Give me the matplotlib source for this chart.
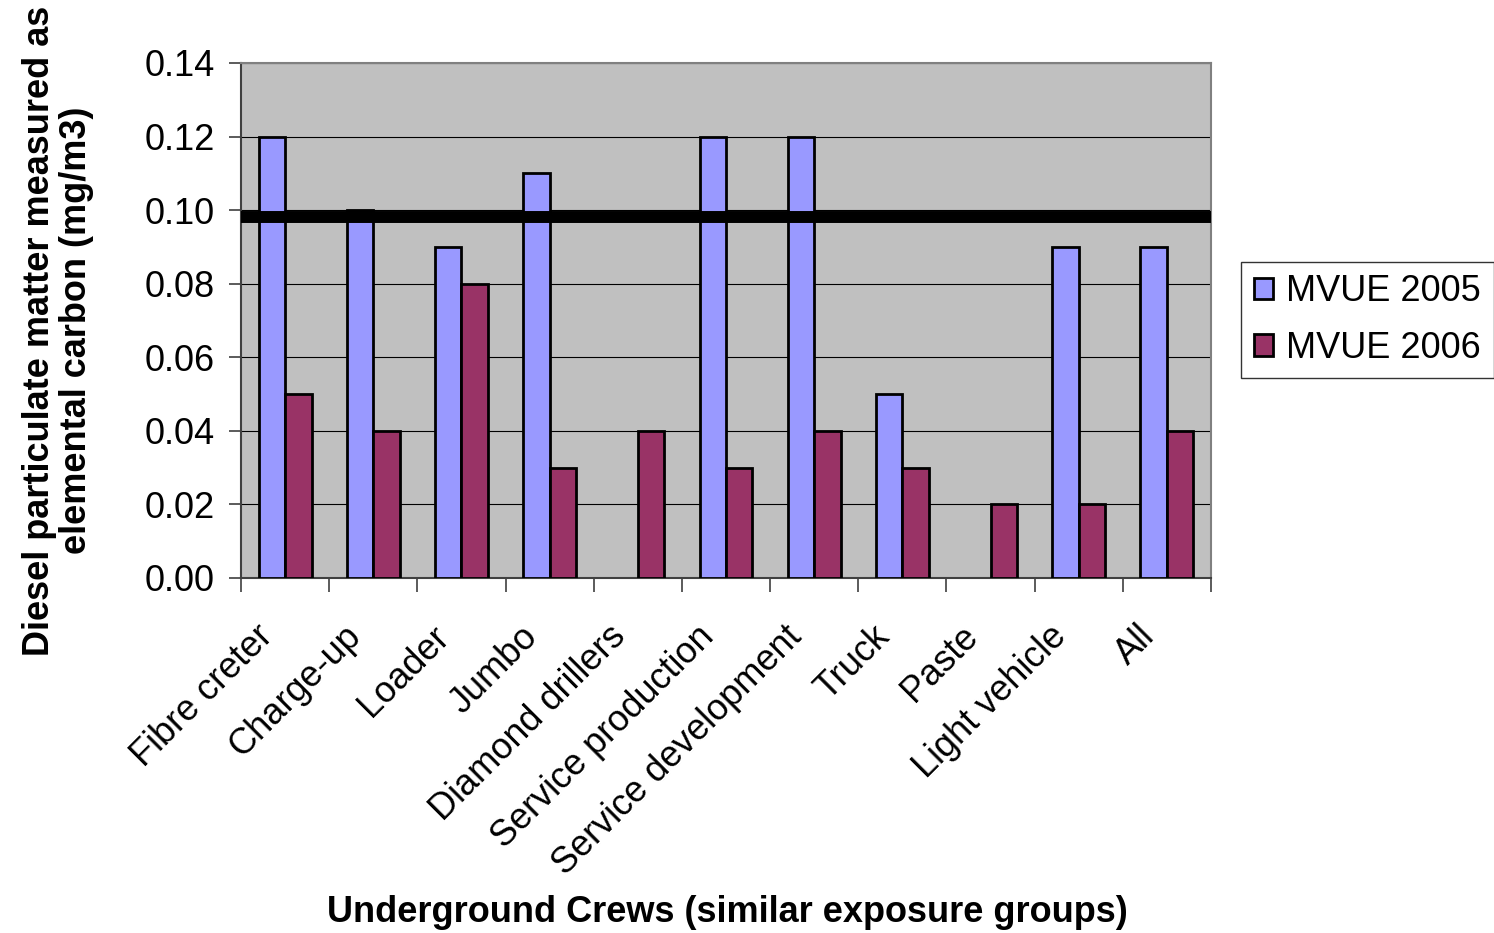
import numpy as np
import matplotlib.pyplot as plt
import matplotlib.transforms as mtransforms
from matplotlib.patches import Patch

plt.rcParams['font.family'] = ['Liberation Sans', 'DejaVu Sans']

# --- data ---
crews = ['Fibre creter', 'Charge-up', 'Loader', 'Jumbo', 'Diamond drillers',
         'Service production', 'Service development', 'Truck', 'Paste',
         'Light vehicle', 'All']
mvue_2005 = [0.12, 0.10, 0.09, 0.11, 0.0, 0.12, 0.12, 0.05, 0.0, 0.09, 0.09]
mvue_2006 = [0.05, 0.04, 0.08, 0.03, 0.04, 0.03, 0.04, 0.03, 0.02, 0.02, 0.04]
limit_value = 0.0981

# --- figure ---
fig = plt.figure(figsize=(14.94, 9.33), dpi=100)
ax = fig.add_axes([0.1613, 0.3805, 0.6493, 0.552])
ax.set_facecolor('#C0C0C0')

x = np.arange(len(crews))
w = 0.3
b1 = ax.bar(x - w / 2, mvue_2005, w, color='#9999FF', edgecolor='black', linewidth=2,
            label='MVUE 2005', zorder=3)
b2 = ax.bar(x + w / 2, mvue_2006, w, color='#993366', edgecolor='black', linewidth=2,
            label='MVUE 2006', zorder=3)
# empty bars are not drawn at all
for p in list(b1) + list(b2):
    if p.get_height() == 0:
        p.set_visible(False)

ax.axhline(limit_value, color='black', linewidth=8.6, solid_capstyle='butt', zorder=4)

ax.set_xlim(-0.5, len(crews) - 0.5)
ax.set_ylim(0, 0.14)
yt = np.arange(0, 0.141, 0.02)
ax.set_yticks(yt)
ax.set_yticklabels([f'{v:.2f}' for v in yt])
ax.yaxis.grid(True, color='black', linewidth=0.8, zorder=0)
ax.set_axisbelow(True)

# category ticks at group boundaries, labels at centres (placed as texts so
# they can be nudged down-left like the original)
ax.set_xticks(np.arange(len(crews) + 1) - 0.5)
ax.set_xticklabels([])
ax.tick_params(axis='x', which='major', length=10, width=1.2, color='#404040')
ax.tick_params(axis='y', length=9, width=1.2, color='#404040', labelsize=26, pad=10)

lab_tr = ax.get_xaxis_transform() + mtransforms.ScaledTranslation(-0.30, -0.41, fig.dpi_scale_trans)
for xi, name in zip(x, crews):
    ax.text(xi, 0, name, transform=lab_tr, rotation=45, ha='right', va='top',
            rotation_mode='anchor', fontsize=26, clip_on=False)

for s in ax.spines.values():
    s.set_color('#808080')
    s.set_linewidth(1.5)
ax.spines['left'].set_color('#404040')
ax.spines['bottom'].set_color('#404040')

ax.set_ylabel('Diesel particulate matter measured as\nelemental carbon (mg/m3)',
              fontsize=26, fontweight='bold', linespacing=1.05)
ax.yaxis.set_label_coords(-0.152, 0.48)
fig.text(0.487, 0.003, 'Underground Crews (similar exposure groups)',
         fontsize=26, fontweight='bold', ha='center', va='bottom')

handles = [Patch(facecolor='#9999FF', edgecolor='black', linewidth=2, label='MVUE 2005'),
           Patch(facecolor='#993366', edgecolor='black', linewidth=2, label='MVUE 2006')]
leg = fig.legend(handles=handles, loc='center left', bbox_to_anchor=(0.8306, 0.657),
                 fontsize=26, frameon=True, fancybox=False, edgecolor='black',
                 handlelength=0.55, handleheight=0.55, handletextpad=0.36,
                 labelspacing=0.6, borderpad=0.35, borderaxespad=0)
leg.get_frame().set_linewidth(1)

fig.savefig('out.png', dpi=100, facecolor='white')
